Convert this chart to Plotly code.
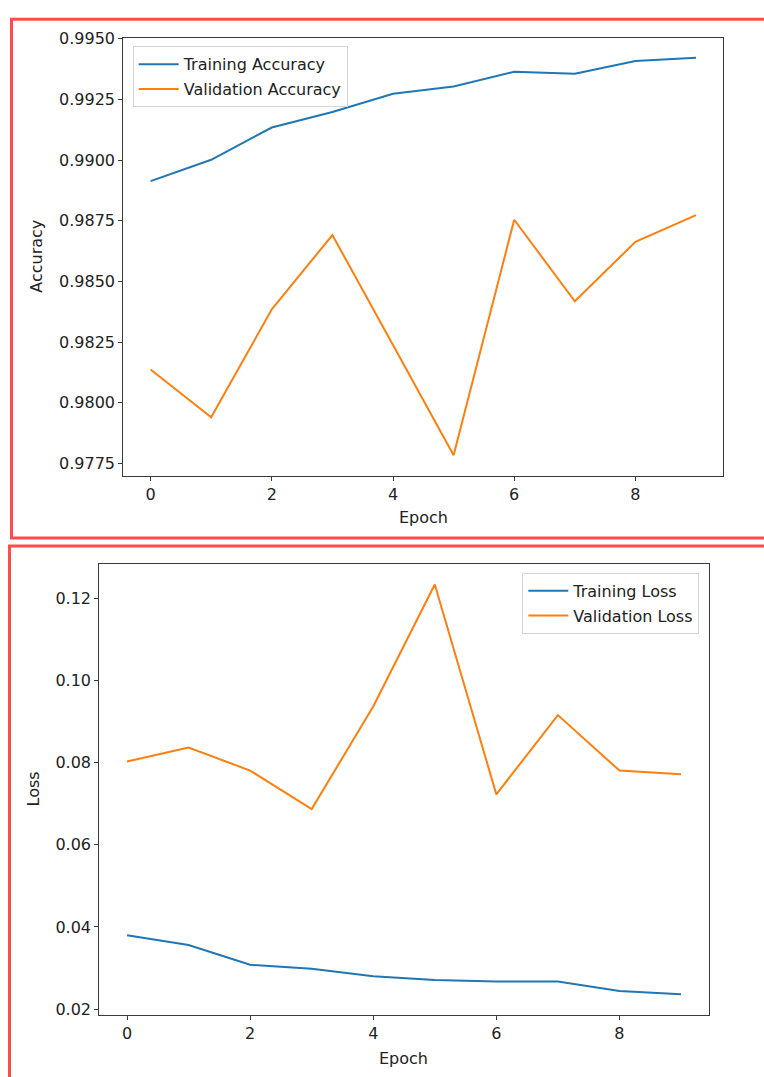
import plotly.graph_objects as go

# ---- data ----
epochs = [0, 1, 2, 3, 4, 5, 6, 7, 8, 9]
train_acc = [0.98913, 0.99001, 0.99134, 0.99198, 0.99273, 0.99303, 0.99364, 0.99356, 0.99408, 0.99421]
val_acc = [0.98137, 0.97940, 0.98385, 0.98691, 0.98238, 0.97784, 0.98754, 0.98418, 0.98663, 0.98773]
train_loss = [0.0380, 0.0356, 0.0308, 0.0298, 0.0280, 0.0271, 0.0267, 0.0267, 0.0244, 0.0236]
val_loss = [0.0803, 0.0837, 0.0781, 0.0687, 0.0937, 0.1234, 0.0723, 0.0916, 0.0781, 0.0772]
x_ticks = [0, 2, 4, 6, 8]
acc_ticks = [0.9775, 0.9800, 0.9825, 0.9850, 0.9875, 0.9900, 0.9925, 0.9950]
loss_ticks = [0.02, 0.04, 0.06, 0.08, 0.10, 0.12]

W, H = 764, 1077
BLUE = "#1f77b4"
ORANGE = "#ff7f0e"
TXT = "#222222"
FONT = "DejaVu Sans"
FS = 16
RED = "#ff4d4d"


def px_x(p):
    return p / W


def px_y(p):
    return 1 - p / H


fig = go.Figure()
fig.add_trace(go.Scatter(x=epochs, y=train_acc, mode="lines", name="Training Accuracy",
                         line=dict(color=BLUE, width=2), xaxis="x", yaxis="y",
                         legend="legend", legendgroup="a1"))
fig.add_trace(go.Scatter(x=epochs, y=val_acc, mode="lines", name="Validation Accuracy",
                         line=dict(color=ORANGE, width=2), xaxis="x", yaxis="y",
                         legend="legend", legendgroup="a2"))
fig.add_trace(go.Scatter(x=epochs, y=train_loss, mode="lines", name="Training Loss",
                         line=dict(color=BLUE, width=2), xaxis="x2", yaxis="y2",
                         legend="legend2", legendgroup="l1"))
fig.add_trace(go.Scatter(x=epochs, y=val_loss, mode="lines", name="Validation Loss",
                         line=dict(color=ORANGE, width=2), xaxis="x2", yaxis="y2",
                         legend="legend2", legendgroup="l2"))

axis_style = dict(showline=True, mirror=True, linecolor="#3a3a3a", linewidth=1.2,
                  ticks="outside", ticklen=4, tickcolor="#3a3a3a", tickwidth=1.2,
                  showgrid=False, zeroline=False,
                  tickfont=dict(family=FONT, size=FS, color=TXT))

legend_style = dict(font=dict(family=FONT, size=FS, color=TXT), bgcolor="rgba(255,255,255,0.85)",
                    bordercolor="#d4d4d4", borderwidth=1, tracegroupgap=1, itemwidth=40)

fig.update_layout(
    width=W, height=H, margin=dict(l=0, r=0, t=0, b=0),
    paper_bgcolor="white", plot_bgcolor="white",
    font=dict(family=FONT, size=FS, color=TXT),
    xaxis=dict(domain=[px_x(123.3), px_x(723.3)], range=[-0.45, 9.45], tickvals=x_ticks,
               anchor="y", **axis_style),
    yaxis=dict(domain=[px_y(472.3), px_y(29.3)], range=[0.97700, 0.99503], tickvals=acc_ticks,
               tickformat=".4f", anchor="x", **axis_style),
    xaxis2=dict(domain=[px_x(99.3), px_x(708.7)], range=[-0.45, 9.45], tickvals=x_ticks,
                anchor="y2", **axis_style),
    yaxis2=dict(domain=[px_y(1018.3), px_y(561.7)], range=[0.01856, 0.12842], tickvals=loss_ticks,
                tickformat=".2f", anchor="x2", **axis_style),
    legend=dict(x=px_x(132.7), y=px_y(37.7), xanchor="left", yanchor="top", **legend_style),
    legend2=dict(x=px_x(699.3), y=px_y(570.7), xanchor="right", yanchor="top", **legend_style),
    showlegend=True,
)

annotations = [
    dict(text="Epoch", x=px_x(423.3), y=px_y(515), xref="paper", yref="paper",
         showarrow=False, xanchor="center", yanchor="middle"),
    dict(text="Accuracy", x=px_x(37), y=px_y(250.8), xref="paper", yref="paper",
         showarrow=False, xanchor="center", yanchor="middle", textangle=-90),
    dict(text="Epoch", x=px_x(404), y=px_y(1062), xref="paper", yref="paper",
         showarrow=False, xanchor="center", yanchor="middle"),
    dict(text="Loss", x=px_x(33), y=px_y(790), xref="paper", yref="paper",
         showarrow=False, xanchor="center", yanchor="middle", textangle=-90),
]
for a in annotations:
    a["font"] = dict(family=FONT, size=FS, color=TXT)
fig.update_layout(annotations=annotations)

# red frames around the two panels (screenshot borders)
fig.update_layout(shapes=[
    dict(type="rect", xref="paper", yref="paper", x0=px_x(11.5), x1=px_x(790),
         y0=px_y(535.5), y1=px_y(10.5), line=dict(color=RED, width=3), fillcolor="rgba(0,0,0,0)"),
    dict(type="rect", xref="paper", yref="paper", x0=px_x(9.5), x1=px_x(790),
         y0=px_y(1100), y1=px_y(543.5), line=dict(color=RED, width=3), fillcolor="rgba(0,0,0,0)"),
])

POST = (
    "document.documentElement.style.margin='0px';"
    "document.documentElement.style.padding='0px';"
    "document.documentElement.style.overflow='hidden';"
    "document.body.style.margin='0px';"
    "document.body.style.padding='0px';"
    "document.body.style.overflow='hidden';"
    "var gd=document.getElementById('{plot_id}');"
    "gd.style.position='absolute';gd.style.left='0px';gd.style.top='0px';"
)

fig.write_html("out.html", config={"displayModeBar": False}, post_script=POST)
